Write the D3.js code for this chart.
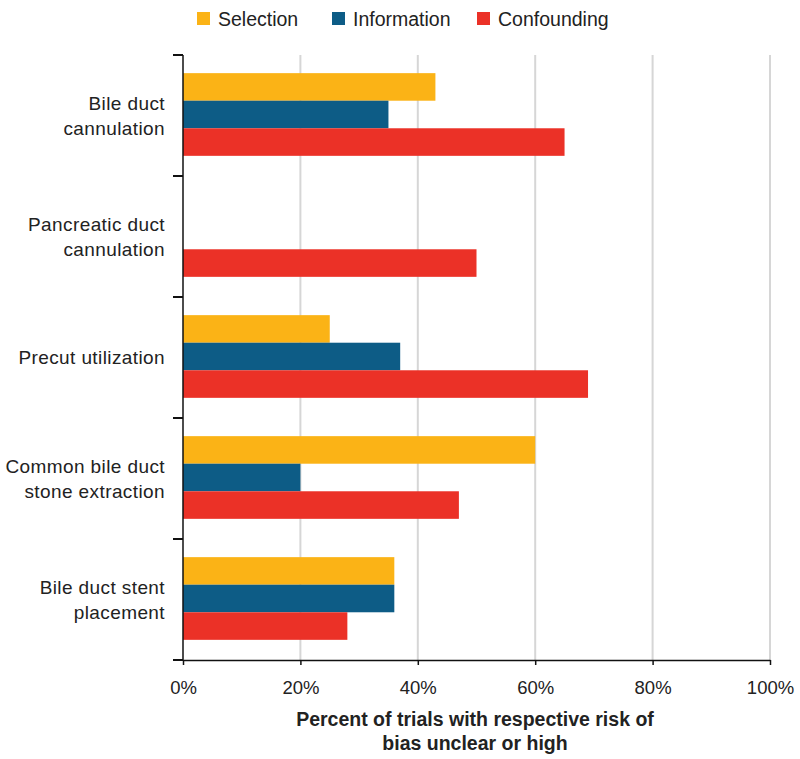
<!DOCTYPE html>
<html><head><meta charset="utf-8">
<script src="https://cdn.jsdelivr.net/npm/d3@7"></script>
<style>body{margin:0;background:#fff;} text{font-family:"Liberation Sans",Arial,sans-serif;fill:#222;}</style>
</head><body>
<svg id="c" width="800" height="759"></svg>
<script>
const categories = [["Bile duct","cannulation"],["Pancreatic duct","cannulation"],["Precut utilization"],["Common bile duct","stone extraction"],["Bile duct stent","placement"]];
const seriesNames = ["Selection","Information","Confounding"];
const selection   = [43, 0, 25, 60, 36];
const information = [35, 0, 37, 20, 36];
const confounding = [65, 50, 69, 47, 28];
const colors = ["#FBB316","#0D5C86","#EB3127"];
const xTicks = [0,20,40,60,80,100];

(function(){
const svg = d3.select("#c");
const mLeft = 183, mRight = 770, mTop = 55, mBottom = 660;
const x = d3.scaleLinear().domain([0,100]).range([mLeft,mRight]);
const y = d3.scaleBand().domain(d3.range(categories.length)).range([mTop,mBottom]);
const inner = d3.scaleBand().domain(seriesNames).range([18, 100]);

// grid
svg.append("g").selectAll("line").data(xTicks.slice(1)).join("line")
  .attr("x1",d=>x(d)).attr("x2",d=>x(d)).attr("y1",mTop).attr("y2",mBottom)
  .attr("stroke","#d6d6d6").attr("stroke-width",2);

const data = [selection, information, confounding];
seriesNames.forEach((s,si)=>{
  svg.append("g").selectAll("rect").data(data[si]).join("rect")
    .attr("x",x(0)).attr("y",(d,i)=>y(i)+inner(s)*y.bandwidth()/120)
    .attr("width",d=>x(d)-x(0)).attr("height",inner.bandwidth()*y.bandwidth()/120)
    .attr("fill",colors[si]);
});

// y axis
const yAxisG = svg.append("g");
yAxisG.append("line").attr("x1",mLeft).attr("x2",mLeft).attr("y1",mTop).attr("y2",mBottom).attr("stroke","#111").attr("stroke-width",1.5);
const yTicks = d3.range(categories.length+1).map(i=> i<categories.length ? y(i) : mBottom);
yAxisG.selectAll("line.t").data(yTicks).join("line").attr("class","t")
  .attr("x1",mLeft-10).attr("x2",mLeft).attr("y1",d=>d).attr("y2",d=>d).attr("stroke","#111").attr("stroke-width",2);
categories.forEach((lines,i)=>{
  const cy = y(i)+y.bandwidth()/2;
  const t = svg.append("text").attr("text-anchor","end").attr("font-size",19).attr("letter-spacing",0.4);
  lines.forEach((l,j)=>{
    t.append("tspan").attr("x",165).attr("y",cy + (j-(lines.length-1)/2)*25 + 6.5).text(l);
  });
});

// x axis
const xAxis = d3.axisBottom(x).tickValues(xTicks).tickFormat(d=>d+"%").tickSize(5).tickSizeOuter(0);
const xg = svg.append("g").attr("transform",`translate(0,${mBottom})`).call(xAxis);
xg.select(".domain").attr("stroke","#111").attr("stroke-width",1.5);
xg.selectAll(".tick line").attr("stroke","#111").attr("stroke-width",1.5);
xg.selectAll(".tick text").attr("font-size",18.5).attr("y",34).attr("dy",0).attr("fill","#222")
  .style("font-family","'Liberation Sans',Arial,sans-serif");

svg.append("text").attr("text-anchor","middle").attr("font-size",19.5).attr("font-weight","bold")
  .selectAll("tspan").data(["Percent of trials with respective risk of","bias unclear or high"]).join("tspan")
  .attr("x",475).attr("y",(d,i)=>726+i*24).text(d=>d);

// legend
const legX = [197,332,477];
seriesNames.forEach((s,i)=>{
  svg.append("rect").attr("x",legX[i]).attr("y",12).attr("width",13).attr("height",13).attr("fill",colors[i]);
  svg.append("text").attr("x",legX[i]+21).attr("y",26).attr("font-size",19.5).text(s);
});
})();
</script>
</body></html>
